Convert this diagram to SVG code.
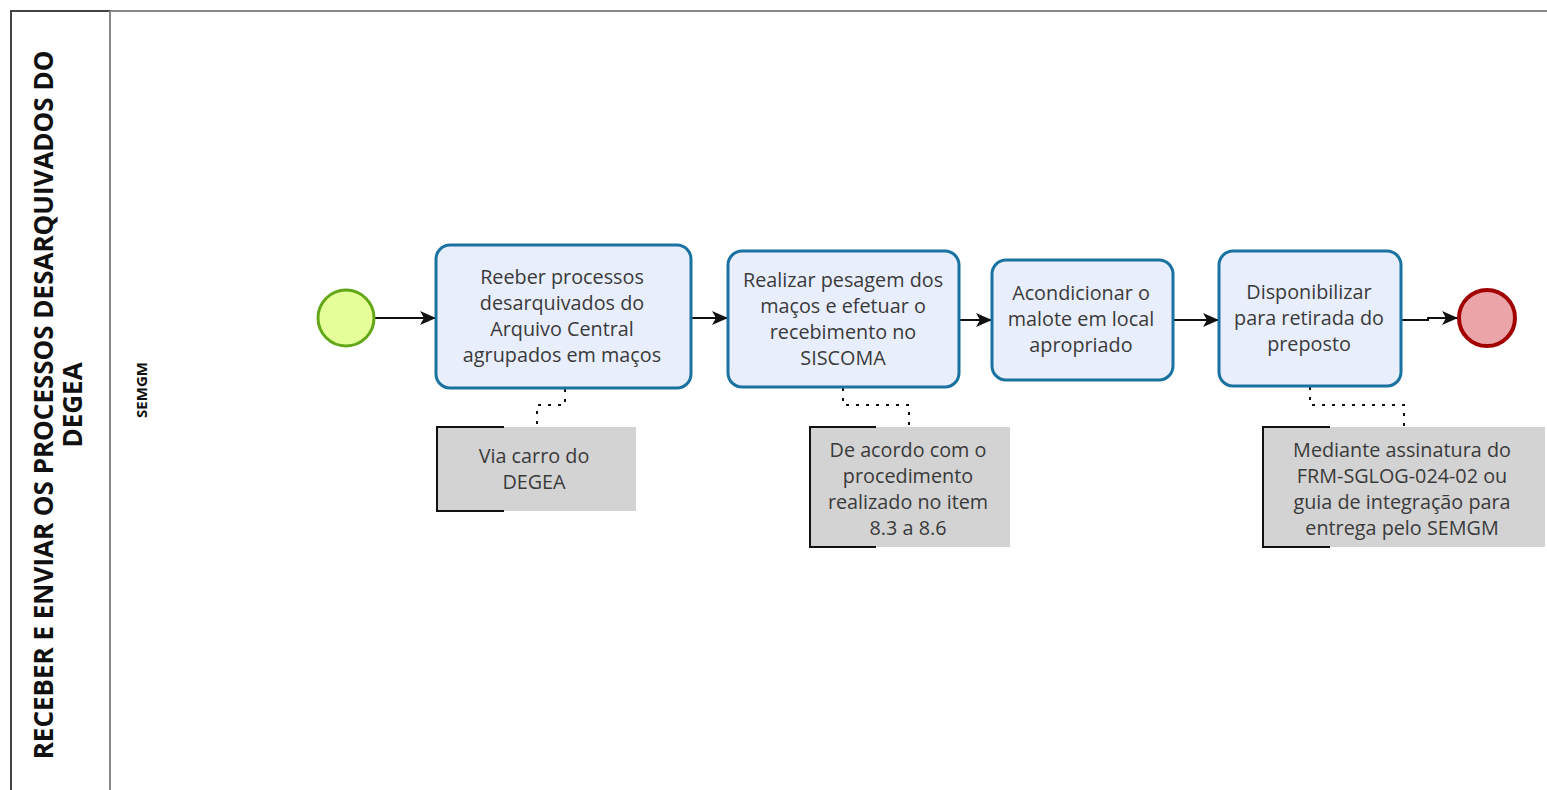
<svg xmlns="http://www.w3.org/2000/svg" width="1547" height="790" viewBox="0 0 1547 790">
<style>
.pool{fill:none;stroke:#444;stroke-width:2}
.lane{fill:none;stroke:#888;stroke-width:2}
.task{fill:#e9eefd;stroke:#1a72a0;stroke-width:3}
.t{font-family:"Open Sans","DejaVu Sans",sans-serif;font-size:19.8px;fill:#3a3a3a;text-anchor:middle}
.b{font-family:"Open Sans","DejaVu Sans",sans-serif;font-weight:bold;fill:#111;text-anchor:middle}
.flow{fill:none;stroke:#111;stroke-width:2}
.assoc{fill:none;stroke:#111;stroke-width:2;stroke-dasharray:3 7}
.ann{fill:#d3d3d3}
.br{fill:none;stroke:#111;stroke-width:2}
</style>
<defs>
<marker id="arr" viewBox="0 0 16 16" refX="15" refY="8" markerWidth="16" markerHeight="16" markerUnits="userSpaceOnUse" orient="auto">
<path d="M0,1 L16,8 L0,15 L4,8 Z" fill="#111"/>
</marker>
</defs>
<rect width="1547" height="790" fill="#fff"/>
<g id="pool">
<path class="pool" d="M11,790 V11 H110"/>
<path class="lane" d="M110,11 H1547 M110,11 V790"/>
<text class="b" font-size="26" transform="translate(53,405) rotate(-90)">RECEBER E ENVIAR OS PROCESSOS DESARQUIVADOS DO</text>
<text class="b" font-size="26" transform="translate(82,405) rotate(-90)">DEGEA</text>
</g>
<g id="lane-semgm">
<text class="b" font-size="15" transform="translate(147,390) rotate(-90)">SEMGM</text>
</g>
<g id="connectors">
<path class="flow" d="M375,318 H435" marker-end="url(#arr)"/>
<path class="flow" d="M691,318 H727" marker-end="url(#arr)"/>
<path class="flow" d="M959,320 H991" marker-end="url(#arr)"/>
<path class="flow" d="M1173,320 H1218" marker-end="url(#arr)"/>
<path class="flow" d="M1401,320 H1428 V318 H1457" marker-end="url(#arr)"/>
<path class="assoc" d="M565,389 V405 H537 V427"/>
<path class="assoc" d="M843,388 V405 H909 V427"/>
<path class="assoc" d="M1310,387 V405 H1404 V427"/>
</g>
<g id="start">
<circle cx="346" cy="318" r="28" fill="#e5ff99" stroke="#62a716" stroke-width="3"/>
</g>
<g id="task1">
<rect class="task" x="436" y="245" width="255" height="143" rx="14"/>
<text class="t" x="562" y="284">Reeber processos</text>
<text class="t" x="562" y="310">desarquivados do</text>
<text class="t" x="562" y="336">Arquivo Central</text>
<text class="t" x="562" y="362">agrupados em maços</text>
</g>
<g id="task2">
<rect class="task" x="728" y="251" width="231" height="136" rx="14"/>
<text class="t" x="843" y="287">Realizar pesagem dos</text>
<text class="t" x="843" y="313">maços e efetuar o</text>
<text class="t" x="843" y="339">recebimento no</text>
<text class="t" x="843" y="365">SISCOMA</text>
</g>
<g id="task3">
<rect class="task" x="992" y="260" width="181" height="120" rx="14"/>
<text class="t" x="1081" y="300">Acondicionar o</text>
<text class="t" x="1081" y="326">malote em local</text>
<text class="t" x="1081" y="352">apropriado</text>
</g>
<g id="task4">
<rect class="task" x="1219" y="251" width="182" height="135" rx="14"/>
<text class="t" x="1309" y="299">Disponibilizar</text>
<text class="t" x="1309" y="325">para retirada do</text>
<text class="t" x="1309" y="351">preposto</text>
</g>
<g id="end">
<circle cx="1487" cy="318" r="28" fill="#eba5a8" stroke="#a20000" stroke-width="4"/>
</g>
<g id="note1">
<rect class="ann" x="437" y="427" width="199" height="84"/>
<path class="br" d="M504,427 H437 V511 H504"/>
<text class="t" x="534" y="463">Via carro do</text>
<text class="t" x="534" y="489">DEGEA</text>
</g>
<g id="note2">
<rect class="ann" x="810" y="427" width="200" height="120"/>
<path class="br" d="M876,427 H810 V547 H876"/>
<text class="t" x="908" y="457">De acordo com o</text>
<text class="t" x="908" y="483">procedimento</text>
<text class="t" x="908" y="509">realizado no item</text>
<text class="t" x="908" y="535">8.3 a 8.6</text>
</g>
<g id="note3">
<rect class="ann" x="1263" y="427" width="282" height="120"/>
<path class="br" d="M1330,427 H1263 V547 H1330"/>
<text class="t" x="1402" y="457">Mediante assinatura do</text>
<text class="t" x="1402" y="483">FRM-SGLOG-024-02 ou</text>
<text class="t" x="1402" y="509">guia de integração para</text>
<text class="t" x="1402" y="535">entrega pelo SEMGM</text>
</g>
</svg>
